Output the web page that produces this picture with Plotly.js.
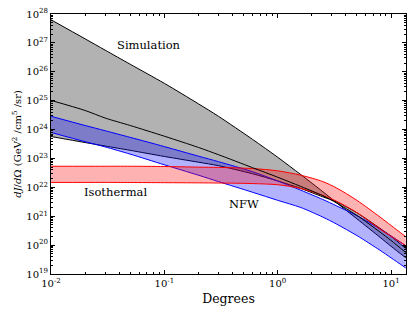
<!DOCTYPE html>
<html>
<head>
<meta charset="utf-8">
<script src="https://cdn.plot.ly/plotly-3.0.1.min.js"></script>
<style>html,body{margin:0;padding:0;background:#fff;}#chart{width:415px;height:312px;}</style>
</head>
<body>
<div id="chart"></div>
<script>
// Angle from centre (degrees)
const degrees = [0.01, 0.02, 0.03, 0.05, 0.1, 0.2, 0.3, 0.6, 1, 1.6, 2.5, 3.3, 5, 8, 10, 13.5];

// dJ/dOmega (GeV^2 / cm^5 / sr)
const simUpper  = [6.31e27, 1.38e27, 5.62e26, 1.82e26, 3.98e25, 7.76e24, 2.88e24, 4.57e23, 1.10e23, 2.75e22, 7.08e21, 2.95e21, 8.13e20, 1.86e20, 9.12e19, 3.63e19];
const simMiddle = [1.02e25, 4.57e24, 2.51e24, 1.38e24, 5.89e23, 2.40e23, 1.35e23, 4.79e22, 2.24e22, 1.07e22, 5.13e21, 2.88e21, 1.07e21, 2.82e20, 1.45e20, 5.50e19];
const simLower  = [5.75e23, 3.55e23, 2.69e23, 1.91e23, 1.17e23, 7.41e22, 5.62e22, 2.95e22, 1.66e22, 9.12e21, 4.68e21, 3.16e21, 1.32e21, 3.80e20, 2.00e20, 7.59e19];
const nfwUpper  = [2.88e24, 1.38e24, 9.12e23, 5.37e23, 2.57e23, 1.20e23, 7.76e22, 3.47e22, 1.66e22, 7.94e21, 3.80e21, 2.29e21, 1.05e21, 3.63e20, 2.09e20, 9.55e19];
const nfwLower  = [7.94e23, 3.80e23, 2.51e23, 1.41e23, 6.03e22, 2.63e22, 1.58e22, 6.76e21, 3.55e21, 2.00e21, 9.33e20, 5.37e20, 2.14e20, 6.61e19, 3.63e19, 1.62e19];
const isoUpper  = [5.37e22, 5.37e22, 5.37e22, 5.37e22, 5.25e22, 5.01e22, 4.90e22, 4.47e22, 3.72e22, 2.63e22, 1.58e22, 9.55e21, 3.55e21, 9.33e20, 4.79e20, 1.95e20];
const isoLower  = [1.48e22, 1.48e22, 1.48e22, 1.47e22, 1.45e22, 1.43e22, 1.41e22, 1.35e22, 1.23e22, 9.12e21, 5.25e21, 3.31e21, 1.32e21, 3.55e20, 2.00e20, 9.55e19];

const bandLabels = ["Simulation", "NFW", "Isothermal"];

// Axis ticks
const xTickVals = [0.01, 0.1, 1, 10];
const xTickText = ["10<sup>-2</sup>", "10<sup>-1</sup>", "10<sup>0</sup>", "10<sup>1</sup>"];
const yExponents = [19, 20, 21, 22, 23, 24, 25, 26, 27, 28];
const minorMultipliers = [2, 3, 4, 5, 6, 7, 8, 9];

const yTickVals = yExponents.map(e => Math.pow(10, e));
const yTickText = yExponents.map(e => "10<sup>" + e + "</sup>");
const xMinor = [];
xTickVals.forEach(d => minorMultipliers.forEach(m => { if (d * m < 13.5) xMinor.push(d * m); }));
const yMinor = [];
yTickVals.slice(0, -1).forEach(d => minorMultipliers.forEach(m => yMinor.push(d * m)));

function line(y, color, fill, fillcolor) {
  const t = {x: degrees, y: y, mode: "lines", type: "scatter",
    line: {color: color, width: 1, shape: "spline", smoothing: 0.8},
    hoverinfo: "skip", showlegend: false};
  if (fill) { t.fill = "tonexty"; t.fillcolor = fillcolor; }
  return t;
}

const data = [
  line(simLower, "#000000"),
  line(simUpper, "#000000", true, "rgba(0,0,0,0.3)"),
  line(nfwLower, "#0000ff"),
  line(nfwUpper, "#0000ff", true, "rgba(0,0,255,0.3)"),
  line(isoLower, "#ff0000"),
  line(isoUpper, "#ff0000", true, "rgba(255,0,0,0.3)"),
  line(simMiddle, "#000000")
];

const serif = "DejaVu Serif, serif";
const axisCommon = {
  type: "log", tickmode: "array",
  ticks: "inside", ticklen: 4, tickwidth: 1, tickcolor: "#000",
  showline: true, linecolor: "#000", linewidth: 1, mirror: "ticks",
  showgrid: false, zeroline: false, automargin: false,
  tickfont: {family: serif, size: 10, color: "#000"}
};

const layout = {
  width: 415, height: 312,
  margin: {l: 51, r: 9, t: 14, b: 38},
  paper_bgcolor: "#fff", plot_bgcolor: "#fff",
  font: {family: serif, color: "#000"},
  xaxis: Object.assign({}, axisCommon, {
    range: [-2, 1.132], tickvals: xTickVals, ticktext: xTickText,
    minor: {tickmode: "array", tickvals: xMinor, ticks: "inside", ticklen: 2, tickcolor: "#000", showgrid: false},
    title: {text: "Degrees", font: {family: serif, size: 12.5, color: "#000"}, standoff: 6}
  }),
  yaxis: Object.assign({}, axisCommon, {
    range: [19, 28], tickvals: yTickVals, ticktext: yTickText,
    minor: {tickmode: "array", tickvals: yMinor, ticks: "inside", ticklen: 2, tickcolor: "#000", showgrid: false},
    title: {text: "<i>dJ</i>/<i>d</i>Ω (GeV<sup>2</sup> /cm<sup>5</sup> /sr)", font: {family: serif, size: 10, color: "#000"}, standoff: 2}
  }),
  annotations: [
    {text: bandLabels[0], xref: "paper", yref: "paper", x: 0.277, y: 0.879, xanchor: "center", yanchor: "middle", showarrow: false, font: {family: serif, size: 11.5, color: "#000"}},
    {text: bandLabels[1], xref: "paper", yref: "paper", x: 0.5445, y: 0.270, xanchor: "center", yanchor: "middle", showarrow: false, font: {family: serif, size: 11.5, color: "#000"}},
    {text: bandLabels[2], xref: "paper", yref: "paper", x: 0.182, y: 0.315, xanchor: "center", yanchor: "middle", showarrow: false, font: {family: serif, size: 11.5, color: "#000"}}
  ]
};

Plotly.newPlot("chart", data, layout, {staticPlot: true, displayModeBar: false});
</script>
</body>
</html>
